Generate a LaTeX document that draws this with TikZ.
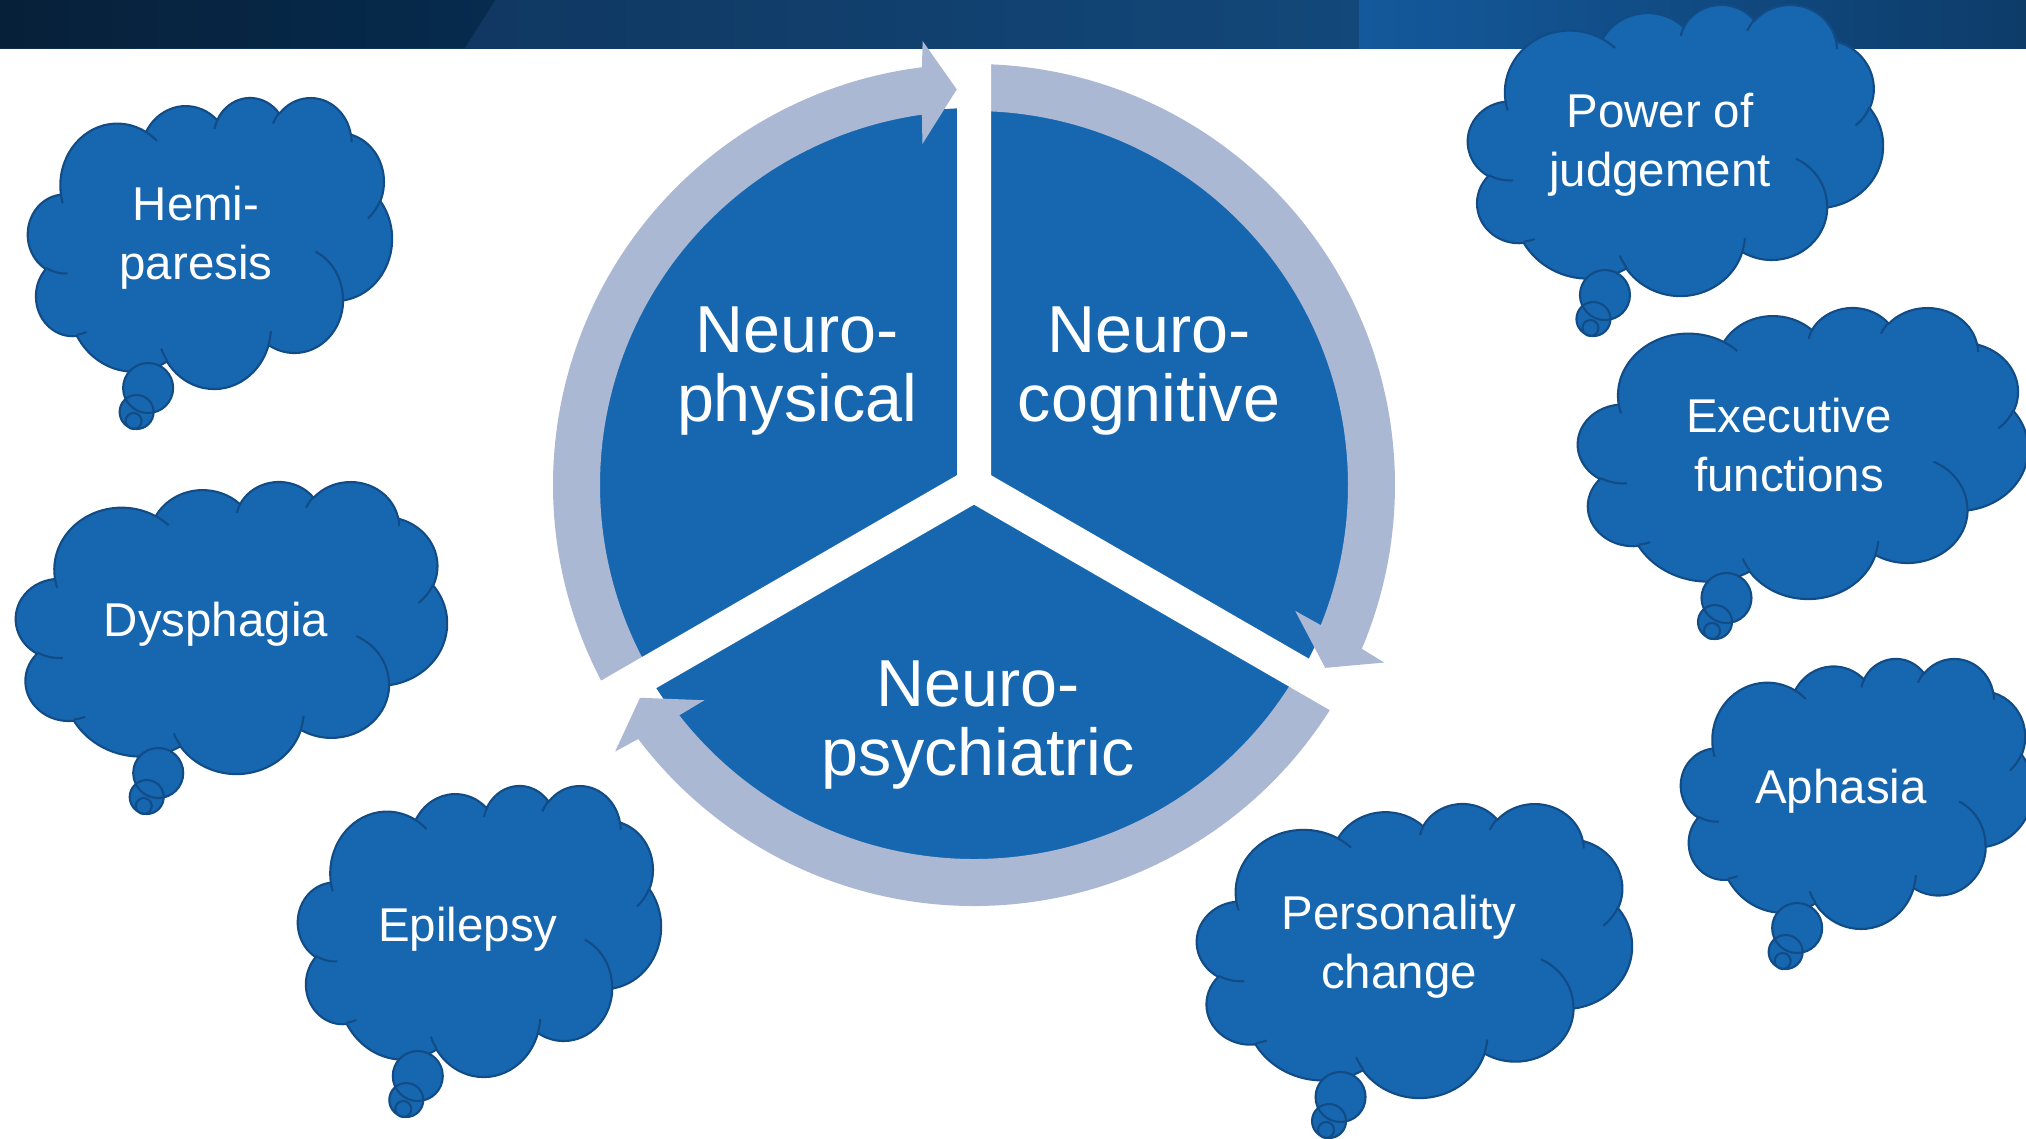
\documentclass[tikz,border=0pt]{standalone}
\usepackage{fontspec}
\setmainfont{Liberation Sans}

\definecolor{pieblue}{RGB}{23,103,176}
\definecolor{cloudedge}{RGB}{18,76,134}
\definecolor{ringgrey}{RGB}{171,184,212}
\definecolor{barnavy}{RGB}{7,32,57}
\definecolor{barslate}{RGB}{6,43,78}
\definecolor{barmid}{RGB}{15,47,85}
\definecolor{barsteel}{RGB}{18,72,122}
\definecolor{barlight}{RGB}{20,89,156}
\definecolor{bardeep}{RGB}{13,60,105}

% thought cloud rim in a 43.2 x 43.2 box (y down); angles are turned
% from ray angles into the ellipse parameter that arc wants
\newcommand\rimarc[4]{%
  \pgfmathsetmacro\arcfrom{atan2(#1*sin(#3),#2*cos(#3))}%
  \pgfmathsetmacro\arcsweep{mod(atan2(#1*sin(#3+#4),#2*cos(#3+#4))-(\arcfrom)+720,360)}%
  \xdef\cloudrim{\cloudrim arc[x radius=#1,y radius=#2,start angle=\arcfrom,delta angle=\arcsweep]}}
\newcommand\crease[6]{%
  \pgfmathsetmacro\arcfrom{atan2(#3*sin(#5),#4*cos(#5))}%
  \pgfmathsetmacro\arcsweep{mod(atan2(#3*sin(#5+#6),#4*cos(#5+#6))-(\arcfrom)+720,360)}%
  \xdef\cloudcreases{\cloudcreases (#1,#2) arc[x radius=#3,y radius=#4,start angle=\arcfrom,delta angle=\arcsweep]}}

\gdef\cloudrim{(3.9,14.37)}
\rimarc{6.753}{9.19}{-190.487}{123.781}
\rimarc{5.333}{7.267}{-144.102}{89.945}
\rimarc{4.365}{5.945}{-145.808}{99.723}
\rimarc{4.857}{6.595}{-130.986}{117.242}
\rimarc{5.333}{7.273}{-78.709}{109.027}
\rimarc{6.775}{9.22}{-46.267}{130.269}
\rimarc{5.785}{7.867}{0.625}{114.033}
\rimarc{6.752}{9.215}{22.452}{115.173}
\rimarc{7.72}{10.543}{66.243}{75.711}
\rimarc{4.36}{5.918}{-274.942}{146.736}
\rimarc{4.345}{5.945}{-246.829}{152.519}
\xdef\cloudrim{\cloudrim -- cycle}

\gdef\cloudcreases{}
\crease{4.693}{26.177}{4.345}{5.945}{86.742}{26.43}
\crease{6.928}{34.899}{4.36}{5.918}{73.61}{11.447}
\crease{16.478}{39.09}{6.752}{9.215}{137.624}{14.081}
\crease{28.827}{34.751}{6.752}{9.215}{6.453}{15.998}
\crease{34.129}{22.954}{5.785}{7.867}{-70.292}{70.917}
\crease{41.798}{15.354}{5.333}{7.273}{30.318}{27.752}
\crease{38.324}{5.426}{4.857}{6.595}{-13.744}{14.859}
\crease{29.078}{3.952}{4.857}{6.595}{-149.181}{18.195}
\crease{22.141}{4.72}{4.365}{5.945}{-163.494}{17.686}
\crease{14}{5.192}{6.753}{9.19}{-66.707}{12.319}
\crease{4.127}{15.789}{6.753}{9.19}{157.654}{11.858}

\begin{document}
\begin{tikzpicture}[x=0.1mm,y=-0.1mm,
  cloud/.style={fill=pieblue,draw=cloudedge,line width=0.6pt},
  crease/.style={draw=cloudedge,line width=0.6pt},
  cloud text/.style={text=white,align=center,font=\fontsize{13.5}{16.8}\selectfont},
  segment text/.style={text=white,align=center,font=\fontsize{18.9}{19.7}\selectfont},
  ring/.style={fill=ringgrey},
  gap/.style={draw=white,line width=3.4mm},
  pics/thought/.style args={#1/#2}{code={
    \begin{scope}[xscale=#1/43.2,yscale=#2/43.2]
      \path[cloud] \cloudrim;
      \path[crease] \cloudcreases;
    \end{scope}
    \path[cloud] (0.33*#1,#2) circle[radius=25]
      (0.33*#1-11.5,#2+24) circle[radius=17]
      (0.33*#1-14.5,#2+33) circle[radius=8];
  }}]

  \useasboundingbox (0,0) rectangle (2026,1138);
  \fill[white] (0,0) rectangle (2026,1138);

  % title band
  \shade[left color=barmid,right color=barsteel] (0,0) rectangle (1359,48);
  \shade[left color=barnavy,right color=barslate] (0,0) -- (495,0) -- (465,48) -- (0,48) -- cycle;
  \shade[left color=barlight,right color=bardeep] (1359,0) rectangle (2026,48);

  % cycle: disc, arrow rings, then the white cuts
  \begin{scope}[shift={(974,485)}]
    \fill[pieblue] (0,0) circle[radius=377];
    \fill[ring] (-90:421) arc[start angle=-90,end angle=22.9,radius=421]
      -- (23.4:447) -- (27.5:396) -- (21.4:345) -- (22:374)
      arc[start angle=22,end angle=-90,radius=374] -- cycle;
    \fill[ring] (30:421) arc[start angle=30,end angle=142.9,radius=421]
      -- (143.4:447) -- (147.5:396) -- (141.4:345) -- (142:374)
      arc[start angle=142,end angle=30,radius=374] -- cycle;
    \fill[ring] (150:421) arc[start angle=150,end angle=262.9,radius=421]
      -- (263.4:447) -- (267.5:396) -- (261.4:345) -- (262:374)
      arc[start angle=262,end angle=150,radius=374] -- cycle;
    \draw[gap] (0,0) -- (-90:430) (0,0) -- (30:430) (0,0) -- (150:430);
  \end{scope}

  \node[segment text] (1) at (797,371) {Neuro-\\physical};
  \node[segment text] (2) at (1149,371) {Neuro-\\cognitive};
  \node[segment text] (3) at (978,725) {Neuro-\\psychiatric};

  % thought clouds
  \pic at (28,97) {thought=364/291};
  \pic at (16,481) {thought=431/292};
  \pic at (298,785) {thought=363/291};
  \pic at (1468,4) {thought=415/291};
  \pic at (1578,307) {thought=450/291};
  \pic at (1681,658) {thought=352/270};
  \pic at (1197,803) {thought=435/294};

  \node[cloud text] (4) at (196,238) {Hemi-\\paresis};
  \node[cloud text] (5) at (216,624) {Dysphagia};
  \node[cloud text] (6) at (468,929) {Epilepsy};
  \node[cloud text] (7) at (1660,145) {Power of\\judgement};
  \node[cloud text] (8) at (1789,445) {Executive\\functions};
  \node[cloud text] (9) at (1841,791) {Aphasia};
  \node[cloud text] (10) at (1399,947) {Personality\\change};
\end{tikzpicture}
\end{document}
